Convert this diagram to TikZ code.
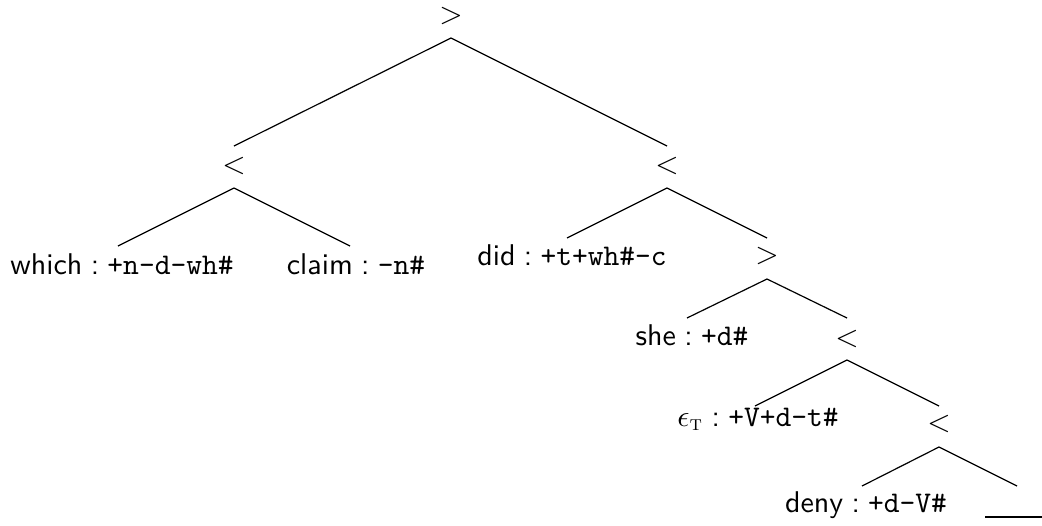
\documentclass[tikz,border=0pt]{standalone}
\usepackage{amsmath}
\usetikzlibrary{calc}
\newcommand{\fsep}{\;:\;}
\begin{document}
\begin{tikzpicture}[x=0.3333pt,y=-0.3333pt,
  sym/.style={inner sep=0pt},
  leaf/.style={inner sep=0pt,anchor=base,font=\sffamily},
  edge/.style={line width=0.4pt}]
\useasboundingbox (0,0) rectangle (1042,525);
% nodes
\node[sym] (root) at (451,16) {$>$};
\node[sym] (l1) at (234,166) {$<$};
\node[sym] (r1) at (667,166) {$<$};
\node[leaf] (which) at (122,274) {which\fsep\texttt{+n-d-wh\#}};
\node[leaf] (claim) at (356,274) {claim\fsep\texttt{-n\#}};
\node[leaf] (did) at (572,265) {did\fsep\texttt{+t+wh\#-c}};
\node[sym] (n3) at (767,256) {$>$};
\node[leaf] (she) at (692,345) {she\fsep\texttt{+d\#}};
\node[sym] (n4) at (847,339) {$<$};
\node[leaf] (eps) at (758,426) {$\epsilon_{\textsc{t}}$\fsep\texttt{+V+d-t\#}};
\node[sym] (n5) at (939,424) {$<$};
\node[leaf] (deny) at (866,512) {deny\fsep\texttt{+d-V\#}};
\coordinate (trl) at (985,517);
\coordinate (trr) at (1042,517);
\coordinate (tr) at (1017,486);
% edges
\draw[edge] ($(root)+(0,22)$) -- ($(l1)+(0,-20)$);
\draw[edge] ($(root)+(0,22)$) -- ($(r1)+(0,-20)$);
\draw[edge] ($(l1)+(0,22)$) -- ($(which.base)+(-4,-28)$);
\draw[edge] ($(l1)+(0,22)$) -- ($(claim.base)+(-6,-28)$);
\draw[edge] ($(r1)+(0,22)$) -- ($(did.base)+(-5,-27)$);
\draw[edge] ($(r1)+(0,22)$) -- ($(n3)+(0,-18)$);
\draw[edge] ($(n3)+(0,23)$) -- ($(she.base)+(-5,-27)$);
\draw[edge] ($(n3)+(0,23)$) -- ($(n4)+(0,-21)$);
\draw[edge] ($(n4)+(0,21)$) -- ($(eps.base)+(-3,-20)$);
\draw[edge] ($(n4)+(0,21)$) -- ($(n5)+(0,-18)$);
\draw[edge] ($(n5)+(0,23)$) -- ($(deny.base)+(-4,-26)$);
\draw[edge] ($(n5)+(0,23)$) -- (tr);
\draw[edge] (trl) -- (trr);
\end{tikzpicture}
\end{document}
